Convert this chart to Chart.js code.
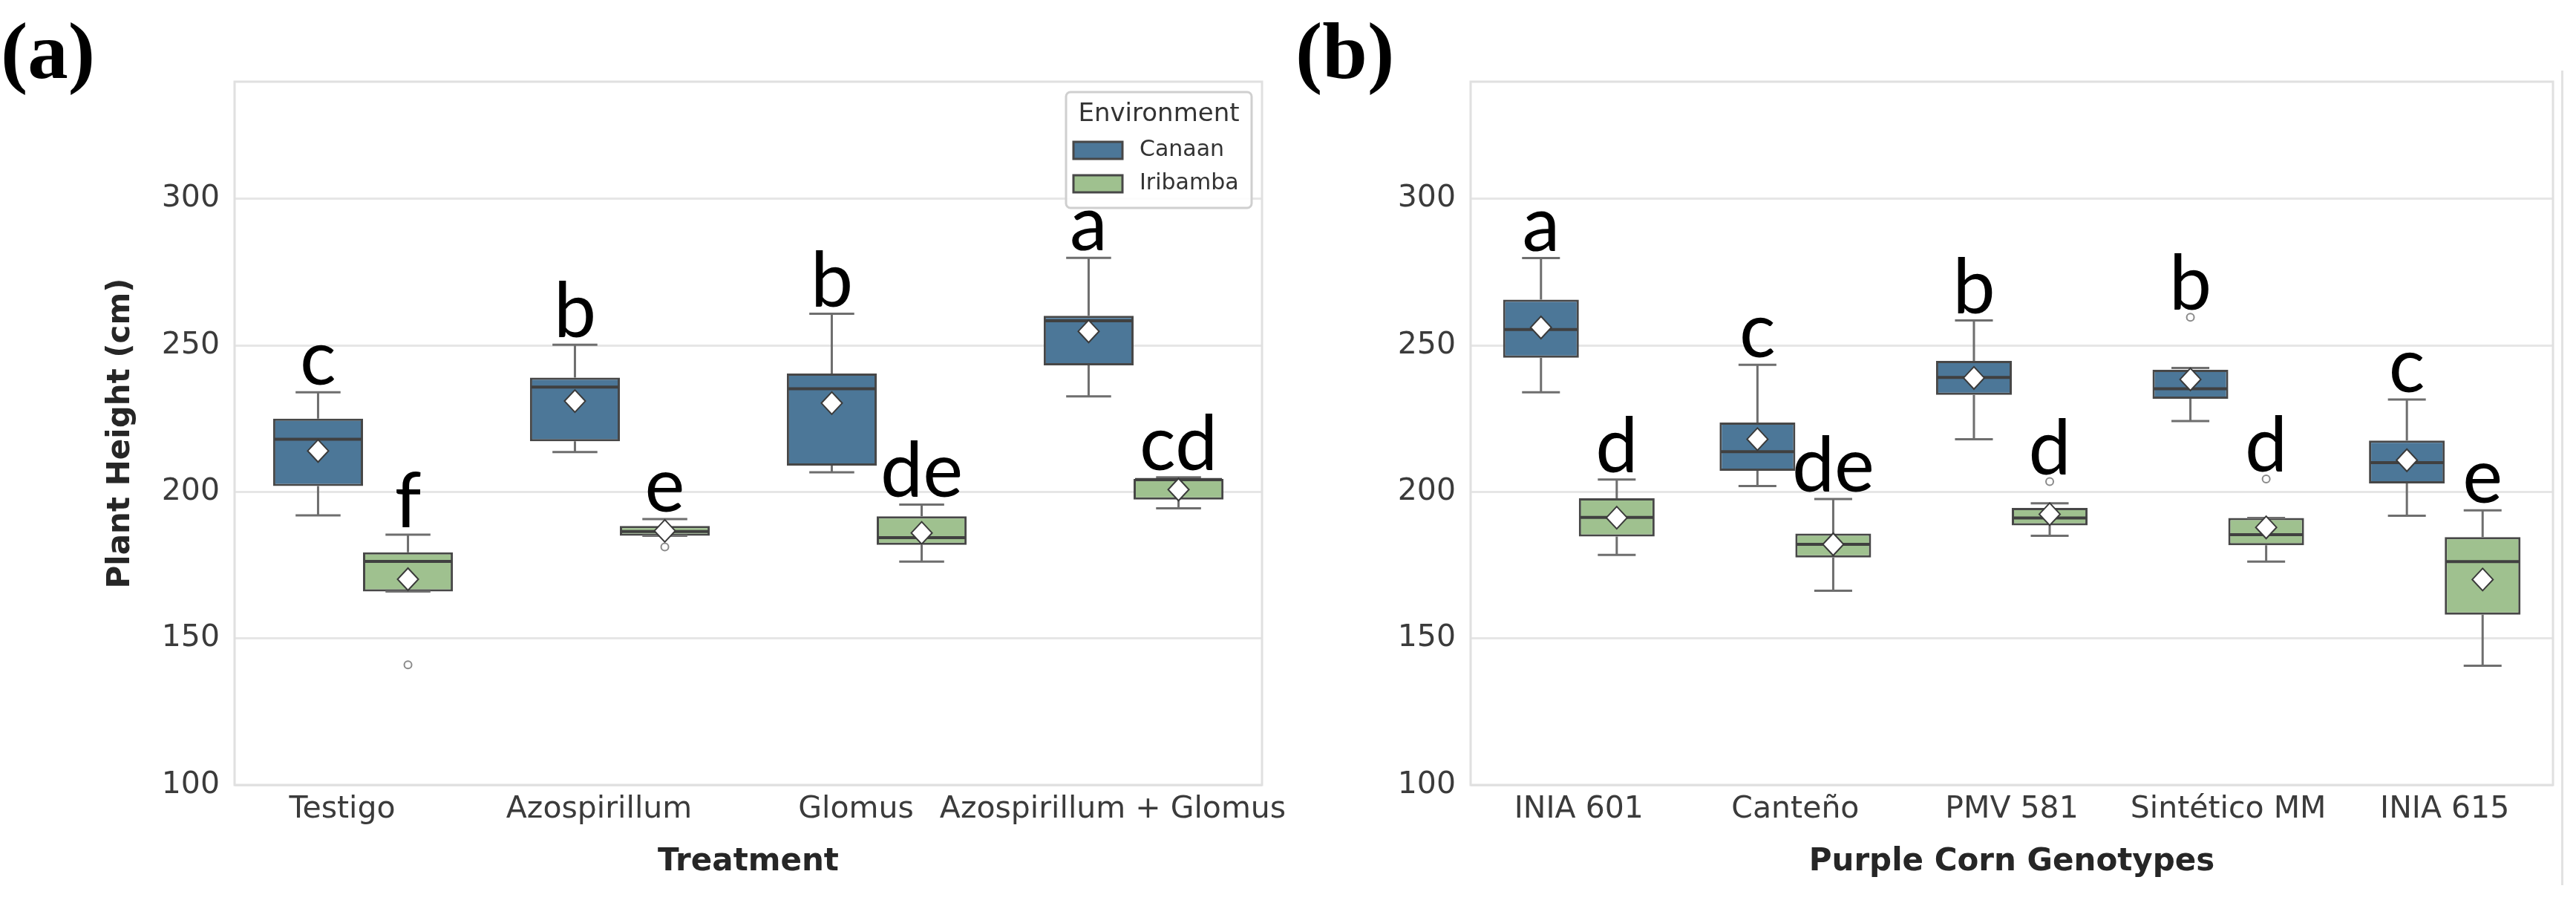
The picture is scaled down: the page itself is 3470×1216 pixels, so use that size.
<!DOCTYPE html>
<html>
<head>
<meta charset="utf-8">
<script src="https://cdn.jsdelivr.net/npm/chart.js@4.4.0/dist/chart.umd.min.js"></script>
<style>
  html, body { margin: 0; padding: 0; background: #fff; }
  body { width: 3470px; height: 1216px; position: relative; overflow: hidden; }
  canvas { position: absolute; top: 0; }
  #chartA { left: 0; }
  #chartB { left: 1750px; }
  .tag { position: absolute; font-family: 'Liberation Serif', 'Times New Roman', serif; font-weight: bold; font-size: 109px; line-height: 1; color: #000; }
  #edge { position: absolute; left: 3450px; top: 95px; height: 1097px; border-left: 3px solid #e2e2e2; }
</style>
</head>
<body>
<canvas id="chartA" width="1750" height="1216"></canvas>
<canvas id="chartB" width="1720" height="1216"></canvas>
<div id="edge"></div>
<div class="tag" style="left:1px;top:14px">(a)</div>
<div class="tag" style="left:1745px;top:14px">(b)</div>
<script>
const treatments = ['Testigo', 'Azospirillum', 'Glomus', 'Azospirillum + Glomus'];
const genotypes = ['INIA 601', 'Canteño', 'PMV 581', 'Sintético MM', 'INIA 615'];
const environments = ['Canaan', 'Iribamba'];
const envColors = ['#4c7798', '#9fc18f'];
const yTicks = [100, 150, 200, 250, 300];

// box stats: [lower whisker, Q1, median, Q3, upper whisker]
const treatCanaan = [[192, 202, 218, 225, 234], [213.6, 217.3, 235.8, 239, 250.2], [206.7, 209, 235.2, 240.4, 260.8], [232.6, 243.2, 258.4, 260.1, 279.9]];
const treatIribamba = [[166, 166, 176.3, 179.4, 185.4], [185, 185, 186.5, 188.4, 190.7], [176.2, 181.9, 184.4, 191.7, 195.7], [194.4, 197.4, 204.2, 204.4, 205]];
const treatCanaanMean = [214, 231, 230.3, 254.8];
const treatIribambaMean = [170.2, 186.7, 186, 200.8];
const treatCanaanOut = [[], [], [], []];
const treatIribambaOut = [[141], [181.2], [], []];
const treatCanaanLetters = ['c', 'b', 'b', 'a'];
const treatIribambaLetters = ['f', 'e', 'de', 'cd'];

const genoCanaan = [[234, 245.8, 255.4, 265.6, 279.8], [202, 207.2, 213.7, 223.7, 243.4], [218, 233.1, 239.1, 244.7, 258.5], [224.2, 231.8, 235.2, 241.7, 242.3], [191.9, 202.9, 210, 217.5, 231.5]];
const genoIribamba = [[178.5, 184.8, 191.3, 197.8, 204.2], [166.3, 177.6, 182.1, 185.8, 197.6], [185, 188.6, 191.1, 194.5, 196.1], [176.2, 181.8, 185.4, 191.1, 191.1], [140.7, 158.1, 176.2, 184.6, 193.7]];
const genoCanaanMean = [256.1, 218, 238.9, 238.4, 210.8];
const genoIribambaMean = [191.2, 182.1, 192.4, 187.9, 170.1];
const genoCanaanOut = [[], [], [], [259.6], []];
const genoIribambaOut = [[], [], [203.5], [204.4], []];
const genoCanaanLetters = ['a', 'c', 'b', 'b', 'c'];
const genoIribambaLetters = ['d', 'de', 'd', 'd', 'e'];

Chart.defaults.font.family = "'DejaVu Sans', sans-serif";

function boxDataset(i, stats, means, outliers, letters) {
  return {
    label: environments[i],
    data: stats.map(s => [s[1], s[3]]),
    stats, means, outliers, letters,
    backgroundColor: envColors[i],
    borderColor: '#474747',
    borderWidth: 3,
    borderSkipped: false
  };
}

// whiskers, medians, means, outliers and letters on top of the floating bars
const boxExtras = {
  id: 'boxExtras',
  beforeDatasetsDraw(chart) {
    const { ctx, chartArea: a } = chart;
    ctx.save();
    ctx.strokeStyle = '#e0e0e0';
    ctx.lineWidth = 3;
    ctx.strokeRect(a.left, a.top, a.right - a.left, a.bottom - a.top);
    ctx.restore();
  },
  afterDatasetsDraw(chart) {
    const { ctx } = chart;
    const y = chart.scales.y;
    ctx.save();
    chart.data.datasets.forEach((ds, i) => {
      chart.getDatasetMeta(i).data.forEach((bar, j) => {
        const [lo, q1, med, q3, hi] = ds.stats[j];
        const x = bar.x, w = bar.width;

        ctx.strokeStyle = '#6e6e6e';
        ctx.lineWidth = 3;
        ctx.beginPath();
        if (hi > q3) {
          ctx.moveTo(x, y.getPixelForValue(q3)); ctx.lineTo(x, y.getPixelForValue(hi));
        }
        if (lo < q1) {
          ctx.moveTo(x, y.getPixelForValue(q1)); ctx.lineTo(x, y.getPixelForValue(lo));
        }
        ctx.moveTo(x - w / 4, y.getPixelForValue(hi)); ctx.lineTo(x + w / 4, y.getPixelForValue(hi));
        ctx.moveTo(x - w / 4, y.getPixelForValue(lo)); ctx.lineTo(x + w / 4, y.getPixelForValue(lo));
        ctx.stroke();

        ctx.strokeStyle = '#404040';
        ctx.lineWidth = 4;
        ctx.beginPath();
        ctx.moveTo(x - w / 2 + 2, y.getPixelForValue(med));
        ctx.lineTo(x + w / 2 - 2, y.getPixelForValue(med));
        ctx.stroke();

        ctx.lineWidth = 2;
        ctx.strokeStyle = '#8a8a8a';
        ctx.fillStyle = '#fff';
        ds.outliers[j].forEach(v => {
          ctx.beginPath();
          ctx.arc(x, y.getPixelForValue(v), 5, 0, Math.PI * 2);
          ctx.fill(); ctx.stroke();
        });

        const my = y.getPixelForValue(ds.means[j]);
        ctx.strokeStyle = '#3a3a3a';
        ctx.beginPath();
        ctx.moveTo(x, my - 15); ctx.lineTo(x + 14, my); ctx.lineTo(x, my + 15); ctx.lineTo(x - 14, my);
        ctx.closePath();
        ctx.fill(); ctx.stroke();

        const top = Math.max(hi, ...ds.outliers[j]);
        ctx.fillStyle = '#000';
        ctx.font = "102px Lato, 'Liberation Sans', sans-serif";
        ctx.textAlign = 'center';
        ctx.textBaseline = 'alphabetic';
        ctx.fillText(ds.letters[j], x, y.getPixelForValue(top) - 10);
      });
    });
    ctx.restore();
  }
};

const envLegend = {
  id: 'envLegend',
  afterDraw(chart) {
    const { ctx, chartArea: a } = chart;
    const lw = 250, lh = 156;
    const lx = a.right - 14 - lw, ly = a.top + 14;
    ctx.save();
    ctx.fillStyle = 'rgba(255,255,255,0.85)';
    ctx.strokeStyle = '#cfcfcf';
    ctx.lineWidth = 3;
    ctx.beginPath();
    ctx.roundRect(lx, ly, lw, lh, 6);
    ctx.fill(); ctx.stroke();
    ctx.fillStyle = '#333';
    ctx.textBaseline = 'middle';
    ctx.textAlign = 'center';
    ctx.font = "34px 'DejaVu Sans'";
    ctx.fillText('Environment', lx + lw / 2, ly + 30);
    ctx.textAlign = 'left';
    ctx.font = "30px 'DejaVu Sans'";
    chart.data.datasets.forEach((ds, i) => {
      const ry = ly + 78 + i * 45;
      ctx.fillStyle = ds.backgroundColor;
      ctx.strokeStyle = '#474747';
      ctx.lineWidth = 3;
      ctx.fillRect(lx + 10, ry - 11, 66, 23);
      ctx.strokeRect(lx + 10, ry - 11, 66, 23);
      ctx.fillStyle = '#333';
      ctx.fillText(ds.label, lx + 99, ry);
    });
    ctx.restore();
  }
};

function makeOptions(xTitle, yTitle, yWidth, rightPad, labelShift) {
  return {
    responsive: false,
    animation: false,
    layout: { padding: { top: 110, right: rightPad, left: 0, bottom: 0 } },
    plugins: { legend: { display: false }, tooltip: { enabled: false } },
    datasets: { bar: { categoryPercentage: 0.7, barPercentage: 1.0 } },
    scales: {
      x: {
        grid: { display: false, drawTicks: false },
        border: { display: false },
        ticks: { color: '#3b3b3b', padding: 9, labelOffset: labelShift, maxRotation: 0, autoSkip: false, font: { size: 41 } },
        title: { display: true, text: xTitle, color: '#262626', font: { size: 42, weight: 'bold' }, padding: { top: 0, bottom: 30 } },
        afterFit(scale) {
          scale.height = 159;
          scale.paddingLeft = 0;
          scale.paddingRight = 0;
        }
      },
      y: {
        min: 100,
        max: 340,
        afterBuildTicks(scale) { scale.ticks = yTicks.map(v => ({ value: v })); },
        grid: { color: '#e6e6e6', lineWidth: 3, drawTicks: false },
        border: { display: false },
        ticks: { color: '#3b3b3b', padding: 20, font: { size: 41 } },
        title: { display: !!yTitle, text: yTitle || '', color: '#262626', font: { size: 42, weight: 'bold' }, padding: { top: 138, bottom: 0 } },
        afterFit(scale) {
          scale.width = yWidth;
          scale.paddingTop = 0;
          scale.paddingBottom = 0;
        }
      }
    }
  };
}

new Chart(document.getElementById('chartA'), {
  type: 'bar',
  data: {
    labels: treatments,
    datasets: [
      boxDataset(0, treatCanaan, treatCanaanMean, treatCanaanOut, treatCanaanLetters),
      boxDataset(1, treatIribamba, treatIribambaMean, treatIribambaOut, treatIribambaLetters)
    ]
  },
  options: makeOptions('Treatment', 'Plant Height (cm)', 316, 50, -28),
  plugins: [boxExtras, envLegend]
});

new Chart(document.getElementById('chartB'), {
  type: 'bar',
  data: {
    labels: genotypes,
    datasets: [
      boxDataset(0, genoCanaan, genoCanaanMean, genoCanaanOut, genoCanaanLetters),
      boxDataset(1, genoIribamba, genoIribambaMean, genoIribambaOut, genoIribambaLetters)
    ]
  },
  options: makeOptions('Purple Corn Genotypes', null, 231, 31, 0),
  plugins: [boxExtras]
});
</script>
</body>
</html>
